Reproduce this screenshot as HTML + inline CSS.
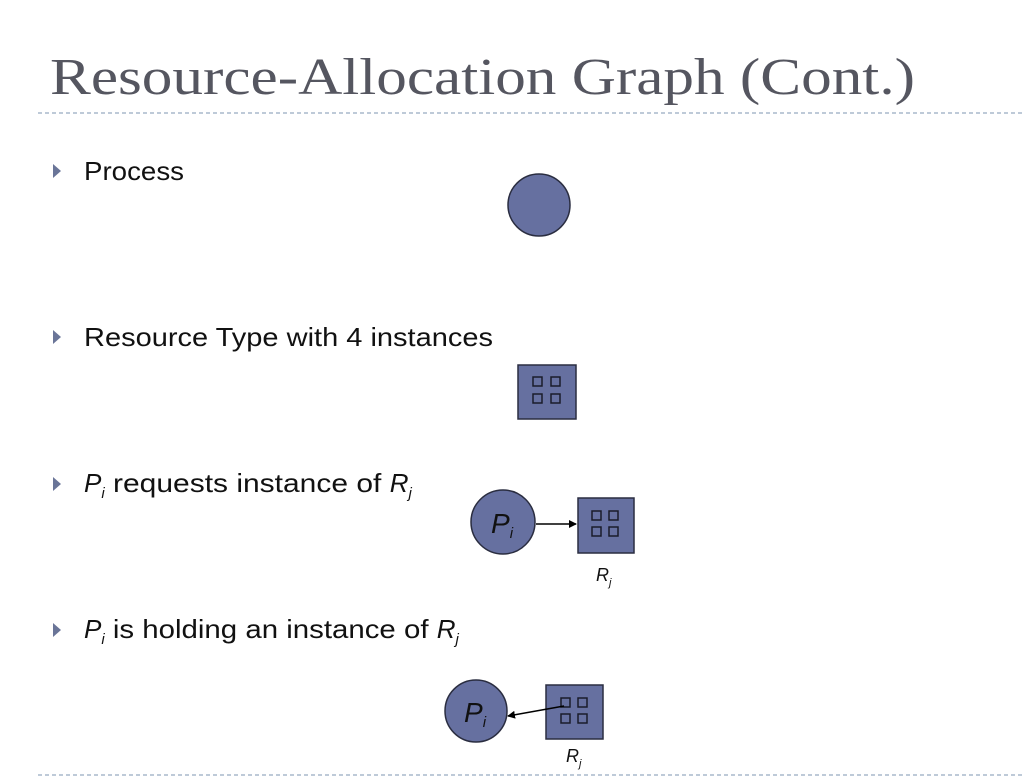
<!DOCTYPE html>
<html><head><meta charset="utf-8"><style>
html,body{margin:0;padding:0;background:#fff;width:1023px;height:778px;overflow:hidden}
svg{display:block}
.b{font-family:"Liberation Sans",sans-serif;font-size:26px;fill:#111}
.i{font-style:italic}
</style></head><body>
<svg width="1023" height="778" viewBox="0 0 1023 778">
<defs><marker id="ah" markerWidth="8" markerHeight="8" refX="7" refY="4" orient="auto" markerUnits="userSpaceOnUse"><path d="M0,0 L8,4 L0,8 z" fill="#000"/></marker></defs>
<text x="50" y="94" font-family="Liberation Serif,serif" font-size="52" fill="#555660" textLength="865" lengthAdjust="spacingAndGlyphs">Resource-Allocation Graph (Cont.)</text>
<line x1="38" y1="113" x2="1023" y2="113" stroke="#a9b8cc" stroke-width="1.5" stroke-dasharray="4,3"/>
<line x1="38" y1="775" x2="1023" y2="775" stroke="#a9b8cc" stroke-width="1.5" stroke-dasharray="4,3"/>
<g fill="#6a7598">
<path d="M53,164 L61,171 L53,178 z"/><path d="M53,330 L61,337 L53,344 z"/><path d="M53,477 L61,484 L53,491 z"/><path d="M53,623 L61,630 L53,637 z"/>
</g>
<text class="b" x="84" y="180" textLength="100" lengthAdjust="spacingAndGlyphs">Process</text>
<text class="b" x="84" y="346" textLength="409" lengthAdjust="spacingAndGlyphs">Resource Type with 4 instances</text>
<text class="b" x="84" y="492"><tspan class="i">P</tspan><tspan class="i" font-size="15" dy="6">i</tspan><tspan dy="-6" textLength="285" lengthAdjust="spacingAndGlyphs"> requests instance of </tspan><tspan class="i">R</tspan><tspan class="i" font-size="15" dy="6">j</tspan></text>
<text class="b" x="84" y="638"><tspan class="i">P</tspan><tspan class="i" font-size="15" dy="6">i</tspan><tspan dy="-6" textLength="332" lengthAdjust="spacingAndGlyphs"> is holding an instance of </tspan><tspan class="i">R</tspan><tspan class="i" font-size="15" dy="6">j</tspan></text>
<g fill="#6670a0" stroke="#2a2d40" stroke-width="1.5">
<circle cx="539" cy="205" r="31"/>
<rect x="518" y="365" width="58" height="54"/>
<circle cx="503" cy="522" r="32"/>
<rect x="578" y="498" width="56" height="55"/>
<circle cx="476" cy="711" r="31"/>
<rect x="546" y="685" width="57" height="54"/>
</g>
<g fill="none" stroke="#1a1c2a" stroke-width="1.5">
<rect x="533" y="377" width="9" height="9"/><rect x="551" y="377" width="9" height="9"/><rect x="533" y="394" width="9" height="9"/><rect x="551" y="394" width="9" height="9"/>
<rect x="592" y="511" width="9" height="9"/><rect x="609" y="511" width="9" height="9"/><rect x="592" y="527" width="9" height="9"/><rect x="609" y="527" width="9" height="9"/>
<rect x="561" y="698" width="9" height="9"/><rect x="578" y="698" width="9" height="9"/><rect x="561" y="714" width="9" height="9"/><rect x="578" y="714" width="9" height="9"/>
</g>
<line x1="536" y1="524" x2="576" y2="524" stroke="#000" stroke-width="1.5" marker-end="url(#ah)"/>
<line x1="564" y1="706" x2="508" y2="716" stroke="#000" stroke-width="1.5" marker-end="url(#ah)"/>
<g font-family="Liberation Sans,sans-serif" font-style="italic" fill="#111">
<text x="491" y="533" font-size="28">P<tspan font-size="15" dy="5">i</tspan></text>
<text x="464" y="722" font-size="28">P<tspan font-size="15" dy="5">i</tspan></text>
<text x="596" y="581" font-size="18">R<tspan font-size="11" dy="5">j</tspan></text>
<text x="566" y="762" font-size="18">R<tspan font-size="11" dy="5">j</tspan></text>
</g>
</svg>
</body></html>
